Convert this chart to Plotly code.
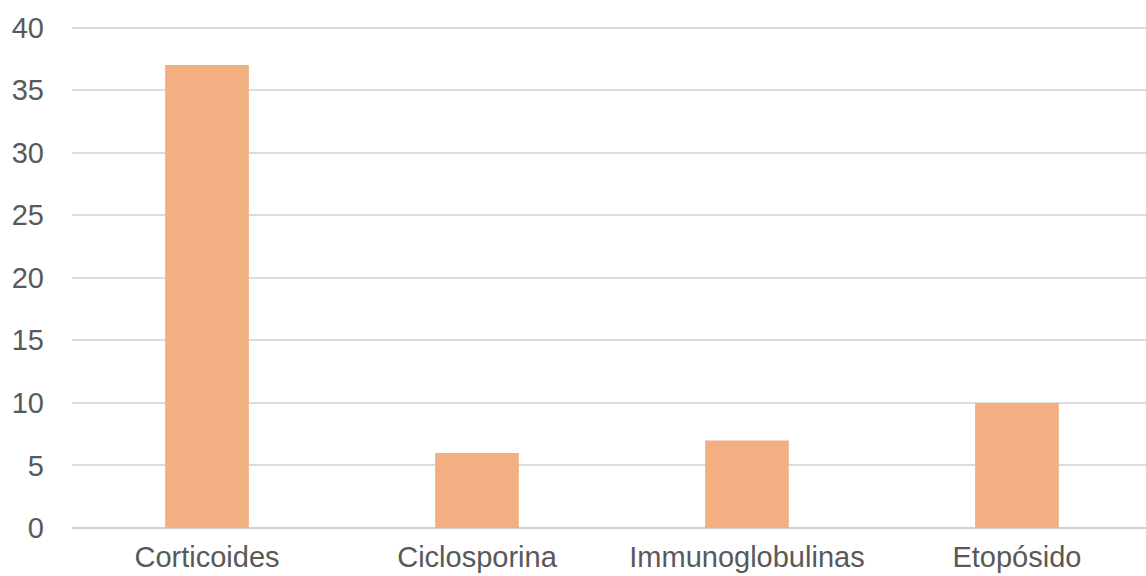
import plotly.graph_objects as go

categories = ["Corticoides", "Ciclosporina", "Immunoglobulinas", "Etopósido"]
values = [37, 6, 7, 10]
y_ticks = [0, 5, 10, 15, 20, 25, 30, 35, 40]

fig = go.Figure(
    go.Bar(
        x=categories,
        y=values,
        marker=dict(color="#F2AF82", line=dict(width=0)),
        width=0.31,
    )
)

fig.update_layout(
    width=1146,
    height=576,
    margin=dict(l=72, r=0, t=25, b=48),
    paper_bgcolor="white",
    plot_bgcolor="white",
    showlegend=False,
    font=dict(family="Liberation Sans, Arial, sans-serif", size=29, color="#595959"),
)

fig.update_xaxes(
    range=[-0.5, 3.478],
    showgrid=False,
    showline=False,
    zeroline=False,
    ticks="",
    ticklabelstandoff=9,
    tickfont=dict(size=29, color="#595959"),
)

fig.update_yaxes(
    range=[0, 40.2],
    tickvals=y_ticks,
    showgrid=True,
    gridcolor="#DCDCDC",
    gridwidth=2,
    zeroline=True,
    zerolinecolor="#D0D0D0",
    zerolinewidth=2,
    showline=False,
    ticks="",
    ticklabelstandoff=27,
    tickfont=dict(size=29, color="#595959"),
)

fig.write_html("out.html")
